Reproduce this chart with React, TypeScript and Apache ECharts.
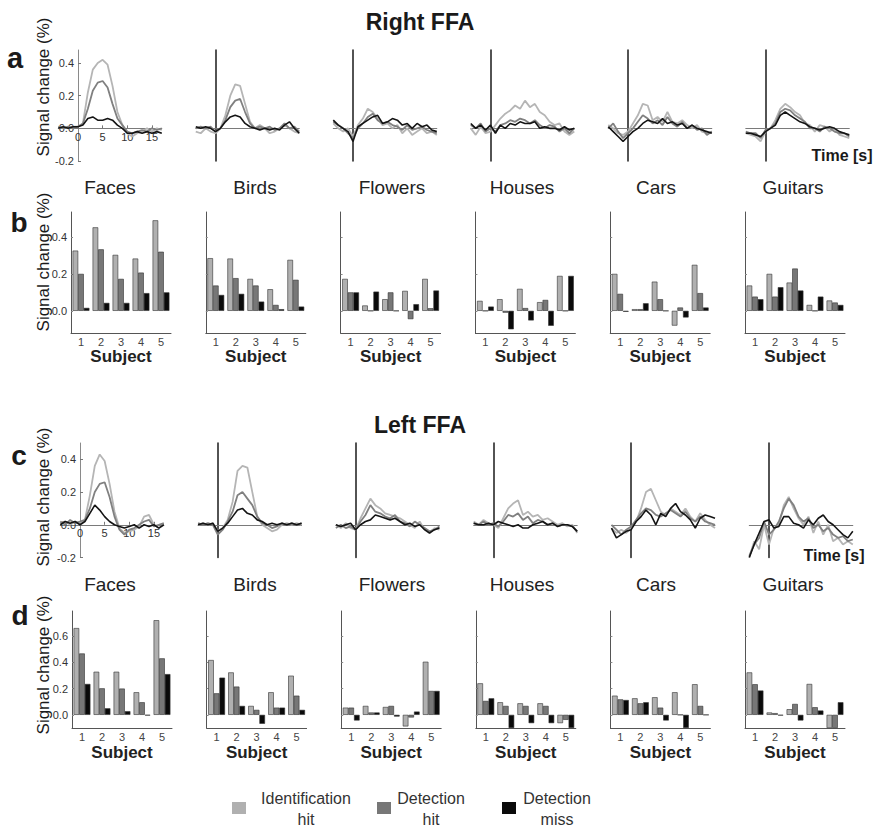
import React, { useEffect, useRef } from 'react';
import * as echarts from 'echarts';

const categories = ['Faces', 'Birds', 'Flowers', 'Houses', 'Cars', 'Guitars'];
const conditions = ['Identification hit', 'Detection hit', 'Detection miss'];
const subjects = ['1', '2', '3', '4', '5'];
const timePoints = [-4, -3, -2, -1, 0, 1, 2, 3, 4, 5, 6, 7, 8, 9, 10, 11, 12, 13, 14, 15, 16, 17];
const timeTicks = [0, 5, 10, 15];
const tcTicks = [-0.2, 0, 0.2, 0.4];
const barTicksRight = [0, 0.2, 0.4];
const barTicksLeft = [0, 0.2, 0.4, 0.6];

// ---- Right FFA time courses: [identification hit, detection hit, detection miss]
const rightTcFaces = [
  [0.0, 0.01, 0.0, 0.01, 0.01, 0.03, 0.22, 0.36, 0.40, 0.42, 0.39, 0.26, 0.10, 0.02, -0.03, -0.05, -0.03, -0.02, 0.0, -0.02, 0.0, -0.01],
  [0.01, 0.0, 0.01, 0.0, 0.01, 0.03, 0.12, 0.23, 0.28, 0.29, 0.25, 0.15, 0.06, 0.02, -0.02, -0.03, -0.02, -0.01, -0.02, 0.0, -0.01, 0.0],
  [0.0, 0.01, 0.0, 0.01, 0.01, 0.02, 0.06, 0.07, 0.05, 0.05, 0.06, 0.05, 0.02, 0.0, -0.03, -0.03, -0.02, -0.03, -0.02, -0.03, -0.02, -0.03],
];
const rightTcBirds = [
  [-0.02, -0.03, 0.0, -0.02, -0.03, 0.0, 0.08, 0.2, 0.27, 0.26, 0.15, 0.04, 0.0, 0.02, 0.0, -0.03, -0.02, 0.0, 0.02, 0.0, -0.02, -0.03],
  [0.0, 0.01, 0.0, 0.01, -0.02, 0.0, 0.05, 0.13, 0.17, 0.18, 0.1, 0.03, 0.0, 0.01, 0.0, 0.01, -0.01, 0.0, 0.03, 0.0, 0.01, -0.02],
  [0.01, 0.0, 0.01, 0.0, -0.02, 0.0, 0.04, 0.07, 0.08, 0.07, 0.03, 0.01, 0.0, -0.01, 0.0, -0.01, 0.0, -0.01, 0.02, 0.04, 0.0, -0.03],
];
const rightTcFlowers = [
  [0.03, 0.0, -0.02, 0.0, -0.05, 0.02, 0.06, 0.12, 0.1, 0.06, 0.02, 0.03, 0.0, 0.02, -0.03, 0.0, -0.04, -0.02, 0.0, -0.03, -0.02, -0.04],
  [0.04, 0.02, 0.0, -0.03, -0.06, 0.0, 0.03, 0.07, 0.09, 0.05, 0.03, 0.04, 0.02, 0.01, -0.01, 0.02, -0.01, 0.0, 0.01, -0.01, -0.02, -0.03],
  [0.05, 0.02, 0.0, -0.02, -0.08, 0.01, 0.03, 0.05, 0.07, 0.08, 0.03, 0.04, 0.06, 0.05, 0.02, 0.03, 0.0, 0.03, 0.01, 0.02, -0.01, -0.02],
];
const rightTcHouses = [
  [0.0, -0.04, 0.01, -0.03, -0.02, 0.02, 0.06, 0.09, 0.11, 0.14, 0.12, 0.17, 0.13, 0.15, 0.1, 0.08, 0.04, 0.02, 0.03, -0.02, -0.04, -0.02],
  [0.02, 0.0, 0.03, -0.02, 0.0, -0.02, 0.02, 0.03, 0.05, 0.04, 0.06, 0.05, 0.03, 0.05, 0.02, 0.0, 0.02, 0.01, -0.02, 0.0, -0.03, 0.0],
  [0.03, 0.0, 0.02, -0.01, 0.02, -0.03, 0.02, 0.0, 0.03, 0.02, 0.04, 0.03, 0.03, 0.04, 0.0, 0.01, 0.0, 0.0, -0.01, 0.01, -0.01, 0.0],
];
const rightTcCars = [
  [0.02, 0.0, -0.03, -0.04, -0.02, 0.03, 0.08, 0.15, 0.14, 0.05, 0.07, 0.04, 0.1, 0.04, 0.03, 0.05, 0.02, 0.0, 0.02, -0.02, -0.03, -0.02],
  [0.0, 0.03, -0.02, -0.06, -0.03, 0.0, 0.04, 0.08, 0.06, 0.03, 0.05, 0.02, 0.07, 0.03, 0.01, 0.04, 0.0, 0.02, -0.01, 0.0, -0.04, -0.02],
  [0.01, -0.02, -0.05, -0.08, -0.05, -0.02, 0.0, 0.03, 0.05, 0.04, 0.03, 0.06, 0.03, 0.04, 0.02, 0.03, 0.0, 0.02, 0.0, -0.01, -0.02, -0.03],
];
const rightTcGuitars = [
  [-0.03, -0.04, -0.05, -0.08, -0.02, 0.0, 0.05, 0.12, 0.15, 0.13, 0.1, 0.08, 0.03, 0.02, -0.02, 0.02, 0.01, -0.02, 0.0, -0.04, -0.05, -0.06],
  [-0.02, -0.03, -0.03, -0.06, -0.01, 0.0, 0.03, 0.1, 0.12, 0.11, 0.08, 0.06, 0.04, 0.0, 0.0, -0.02, 0.01, 0.0, -0.02, -0.03, -0.03, -0.05],
  [-0.03, -0.03, -0.04, -0.05, -0.02, 0.0, 0.02, 0.08, 0.1, 0.08, 0.06, 0.04, 0.03, 0.01, 0.0, -0.01, 0.0, 0.01, 0.0, -0.02, -0.03, -0.04],
];

// ---- Left FFA time courses
const leftTcFaces = [
  [0.01, 0.02, 0.0, 0.02, 0.01, 0.03, 0.18, 0.36, 0.43, 0.39, 0.25, 0.08, -0.02, -0.05, -0.04, -0.03, -0.01, 0.05, 0.06, 0.0, -0.02, 0.0],
  [0.02, 0.0, 0.03, 0.01, 0.02, 0.03, 0.1, 0.2, 0.25, 0.26, 0.17, 0.05, -0.03, -0.06, -0.03, -0.02, 0.0, 0.02, 0.03, -0.01, 0.0, 0.01],
  [0.0, 0.02, 0.01, 0.02, 0.0, 0.02, 0.07, 0.12, 0.09, 0.05, 0.02, 0.0, -0.01, -0.02, -0.01, 0.0, -0.02, 0.0, -0.01, 0.0, -0.02, 0.0],
];
const leftTcBirds = [
  [0.0, 0.01, 0.0, 0.01, -0.04, -0.02, 0.03, 0.14, 0.33, 0.36, 0.35, 0.2, 0.05, 0.0, -0.02, -0.04, -0.03, 0.0, 0.01, 0.0, 0.01, 0.0],
  [0.01, 0.0, 0.01, 0.0, -0.06, -0.03, 0.02, 0.08, 0.18, 0.2, 0.16, 0.12, 0.05, 0.01, 0.0, -0.02, -0.01, 0.01, 0.0, 0.01, 0.0, 0.01],
  [0.0, 0.01, 0.0, 0.01, -0.04, -0.02, 0.01, 0.05, 0.09, 0.1, 0.07, 0.06, 0.03, 0.02, 0.0, 0.01, 0.0, 0.01, 0.0, 0.01, 0.0, 0.01],
];
const leftTcFlowers = [
  [0.0, -0.02, 0.01, -0.02, -0.03, 0.04, 0.1, 0.16, 0.12, 0.1, 0.07, 0.06, 0.05, 0.04, 0.02, 0.0, -0.02, 0.02, -0.03, -0.05, -0.02, -0.03],
  [-0.02, 0.0, -0.02, -0.01, -0.03, 0.02, 0.06, 0.12, 0.08, 0.07, 0.05, 0.04, 0.06, 0.02, 0.01, -0.01, 0.02, 0.0, -0.02, -0.04, -0.03, -0.01],
  [0.0, -0.01, 0.0, 0.01, -0.03, 0.0, 0.02, 0.03, 0.06, 0.05, 0.04, 0.03, 0.04, 0.02, 0.0, 0.01, -0.01, 0.0, -0.03, -0.05, -0.03, -0.02],
];
const leftTcHouses = [
  [0.02, 0.0, 0.03, 0.01, 0.0, -0.02, 0.04, 0.1, 0.13, 0.15, 0.06, 0.08, 0.05, 0.06, 0.03, 0.04, 0.02, 0.0, 0.01, -0.01, 0.0, -0.05],
  [0.01, 0.0, 0.02, 0.0, 0.01, -0.01, 0.02, 0.06, 0.05, 0.07, 0.03, 0.05, 0.01, 0.03, 0.02, 0.0, 0.01, -0.01, 0.0, 0.0, -0.01, -0.04],
  [0.01, 0.0, 0.0, 0.01, 0.0, 0.02, 0.01, 0.0, -0.01, 0.0, -0.02, -0.02, 0.0, 0.01, 0.02, 0.0, 0.01, -0.01, 0.0, 0.0, -0.01, -0.04],
];
const leftTcCars = [
  [-0.02, -0.05, -0.03, -0.05, -0.02, 0.02, 0.1, 0.2, 0.22, 0.15, 0.08, 0.06, 0.1, 0.08, 0.06, 0.1, 0.05, 0.02, 0.07, 0.03, 0.0, -0.02],
  [0.0, -0.03, -0.06, -0.03, -0.01, 0.03, 0.07, 0.1, 0.09, 0.06, 0.05, 0.07, 0.09, 0.07, 0.05, 0.08, 0.04, 0.02, 0.05, 0.02, 0.01, 0.0],
  [-0.02, -0.08, -0.06, -0.04, -0.03, 0.02, 0.05, 0.09, 0.06, 0.0, 0.07, 0.05, 0.1, 0.13, 0.08, 0.06, 0.03, -0.02, 0.04, 0.06, 0.05, 0.04],
];
const leftTcGuitars = [
  [-0.2, -0.1, -0.15, 0.0, -0.12, -0.02, 0.0, 0.12, 0.17, 0.1, 0.04, 0.0, 0.05, -0.05, 0.02, -0.06, 0.0, -0.1, -0.08, -0.12, -0.1, -0.12],
  [-0.19, -0.12, -0.08, 0.02, -0.06, -0.03, 0.02, 0.1, 0.16, 0.12, 0.05, 0.02, 0.04, -0.02, 0.0, -0.04, -0.02, -0.06, -0.08, -0.07, -0.1, -0.09],
  [-0.2, -0.12, -0.05, 0.02, 0.03, -0.02, -0.01, 0.05, 0.05, 0.01, 0.0, -0.02, 0.03, 0.0, 0.04, 0.06, 0.02, 0.0, -0.03, -0.06, -0.08, -0.04],
];

// ---- Per-subject bars: [identification hit, detection hit, detection miss] x subjects 1..5
const rightBarFaces = [[0.326, 0.452, 0.303, 0.283, 0.49], [0.2, 0.333, 0.173, 0.207, 0.32], [0.016, 0.043, 0.043, 0.096, 0.1]];
const rightBarBirds = [[0.285, 0.283, 0.173, 0.117, 0.276], [0.137, 0.177, 0.137, 0.032, 0.168], [0.086, 0.092, 0.05, 0.009, 0.023]];
const rightBarFlowers = [[0.173, 0.029, 0.063, 0.108, 0.173], [0.1, 0.0, 0.1, -0.045, 0.014], [0.1, 0.104, 0.0, 0.036, 0.11]];
const rightBarHouses = [[0.054, 0.063, 0.119, 0.047, 0.189], [0.0, -0.01, 0.015, 0.059, 0.0], [0.023, -0.1, -0.052, -0.081, 0.189]];
const rightBarCars = [[0.2, 0.009, 0.158, -0.08, 0.249], [0.092, 0.009, 0.063, 0.018, 0.096], [-0.005, 0.041, 0.0, -0.036, 0.018]];
const rightBarGuitars = [[0.137, 0.2, 0.153, 0.032, 0.056], [0.077, 0.077, 0.229, 0.0, 0.045], [0.063, 0.128, 0.11, 0.077, 0.032]];

const leftBarFaces = [[0.66, 0.328, 0.328, 0.172, 0.72], [0.467, 0.202, 0.2, 0.096, 0.43], [0.235, 0.05, 0.028, -0.005, 0.31]];
const leftBarBirds = [[0.417, 0.323, 0.068, 0.172, 0.298], [0.164, 0.215, 0.038, 0.055, 0.146], [0.283, 0.068, -0.068, 0.055, 0.038]];
const leftBarFlowers = [[0.055, 0.068, 0.06, -0.088, 0.404], [0.055, 0.018, 0.068, -0.02, 0.182], [-0.043, 0.018, -0.013, 0.025, 0.182]];
const leftBarHouses = [[0.24, 0.096, 0.088, 0.088, -0.063], [0.106, 0.068, 0.068, 0.068, -0.038], [0.126, -0.1, -0.063, -0.063, -0.1]];
const leftBarCars = [[0.146, 0.126, 0.134, 0.172, 0.233], [0.118, 0.088, 0.055, 0.0, 0.068], [0.113, 0.096, -0.043, -0.1, 0.0]];
const leftBarGuitars = [[0.323, 0.018, 0.043, 0.235, -0.1], [0.233, 0.013, 0.083, 0.058, -0.1], [0.185, -0.005, -0.043, 0.033, 0.096]];

const FONT = '"Liberation Sans", Arial, Helvetica, sans-serif';
const LINE_COLORS = ['#b5b5b5', '#808080', '#141414'];
const BAR_COLORS = ['#b0b0b0', '#777777', '#0a0a0a'];

function buildOption() {
  const grid: any[] = [];
  const xAxis: any[] = [];
  const yAxis: any[] = [];
  const series: any[] = [];
  const pxPerSec = 4.93;
  const tMin = -4;
  const tMax = 17;
  const yMin = -0.2;

  const addTime = (data: number[][], col: number, cfg: any) => {
    const i = grid.length;
    const zero = cfg.zeroX + cfg.stepX * col;
    const first = col === 0;
    const left = zero + tMin * pxPerSec;
    const width = (tMax - tMin) * pxPerSec;
    // shift axes so they cross at (0 s, 0 %)
    const yShift = -(zero - left);
    const xShift = -(cfg.height * (0 - yMin) / (cfg.max - yMin));
    grid.push({ left, top: cfg.top, width, height: cfg.height, containLabel: false });
    xAxis.push({
      type: 'value', gridIndex: i, min: tMin, max: tMax, offset: xShift,
      axisLine: { show: true, onZero: false, lineStyle: { color: '#7a7a7a', width: 1 } },
      axisTick: { show: first, inside: true, length: 3, customValues: timeTicks, lineStyle: { color: '#777' } },
      axisLabel: { show: first, customValues: timeTicks, fontSize: 11, margin: 3, color: '#333', fontFamily: FONT },
      splitLine: { show: false },
    });
    yAxis.push({
      type: 'value', gridIndex: i, min: yMin, max: cfg.max, offset: yShift,
      axisLine: { show: true, onZero: false, lineStyle: { color: first ? '#8a8a8a' : '#1a1a1a', width: first ? 1 : 1.5 } },
      axisTick: { show: first, inside: true, length: 3, customValues: tcTicks, lineStyle: { color: '#777' } },
      axisLabel: { show: first, customValues: tcTicks, formatter: (v: number) => v.toFixed(1), fontSize: 11, margin: 4, color: '#333', fontFamily: FONT },
      splitLine: { show: false },
    });
    data.forEach((arr, s) => {
      series.push({
        type: 'line', name: conditions[s], xAxisIndex: i, yAxisIndex: i,
        data: timePoints.map((t, k) => [t, arr[k]]),
        showSymbol: false, silent: true, z: 3 + s,
        lineStyle: { color: LINE_COLORS[s], width: s === 2 ? 1.6 : 1.8 },
      });
    });
  };

  const addBars = (data: number[][], col: number, cfg: any) => {
    const i = grid.length;
    const first = col === 0;
    grid.push({ left: cfg.left0 + cfg.step * col, top: cfg.top, width: 100, height: cfg.height, containLabel: false });
    xAxis.push({
      type: 'category', gridIndex: i, data: subjects,
      axisLine: { show: true, onZero: false, lineStyle: { color: '#555', width: 1 } },
      axisTick: { show: false },
      axisLabel: { interval: 0, fontSize: 11, margin: 3, color: '#444', fontFamily: FONT },
      name: 'Subject', nameLocation: 'middle', nameGap: cfg.nameGap,
      nameTextStyle: { fontSize: 17, fontWeight: 'bold', color: '#222', fontFamily: FONT },
    });
    yAxis.push({
      type: 'value', gridIndex: i, min: cfg.min, max: cfg.max,
      axisLine: { show: true, lineStyle: { color: '#555', width: 1 } },
      axisTick: { show: true, inside: true, length: 2, customValues: cfg.ticks, lineStyle: { color: '#888' } },
      axisLabel: { show: first, customValues: cfg.ticks, formatter: (v: number) => v.toFixed(1), fontSize: 11, margin: 4, color: '#333', fontFamily: FONT },
      splitLine: { show: false },
    });
    data.forEach((arr, s) => {
      series.push({
        type: 'bar', name: conditions[s], xAxisIndex: i, yAxisIndex: i, data: arr,
        barGap: '0%', barCategoryGap: '16%', silent: true,
        itemStyle: { color: BAR_COLORS[s], borderColor: '#333', borderWidth: 0.6 },
      });
    });
  };

  const rowA = { zeroX: 78, stepX: 137.5, top: 50, height: 111, max: 0.48 };
  const rowB = { left0: 71, step: 134.8, top: 212, height: 121, min: -0.12, max: 0.535, nameGap: 12, ticks: barTicksRight };
  const rowC = { zeroX: 80, stepX: 137.8, top: 443, height: 114.5, max: 0.5 };
  const rowD = { left0: 72, step: 134.6, top: 611, height: 117, min: -0.1, max: 0.79, nameGap: 16, ticks: barTicksLeft };

  [rightTcFaces, rightTcBirds, rightTcFlowers, rightTcHouses, rightTcCars, rightTcGuitars].forEach((d, c) => addTime(d, c, rowA));
  [rightBarFaces, rightBarBirds, rightBarFlowers, rightBarHouses, rightBarCars, rightBarGuitars].forEach((d, c) => addBars(d, c, rowB));
  [leftTcFaces, leftTcBirds, leftTcFlowers, leftTcHouses, leftTcCars, leftTcGuitars].forEach((d, c) => addTime(d, c, rowC));
  [leftBarFaces, leftBarBirds, leftBarFlowers, leftBarHouses, leftBarCars, leftBarGuitars].forEach((d, c) => addBars(d, c, rowD));

  const txt = (text: string, x: number, y: number, size: number, opts: any = {}) => ({
    type: 'text', x, y, rotation: opts.rotation || 0, silent: true,
    style: {
      text, fontSize: size, fontFamily: FONT, fontWeight: opts.bold ? 'bold' : 'normal',
      fill: opts.fill || '#1a1a1a', align: opts.align || 'center', verticalAlign: 'middle',
    },
  });

  const catX = [110, 255, 392, 522, 656, 793];
  const graphic: any[] = [
    txt('Right FFA', 420, 22, 23, { bold: true }),
    txt('Left FFA', 420, 425, 23, { bold: true }),
    txt('a', 15, 58, 29, { bold: true }),
    txt('b', 19, 222, 28, { bold: true }),
    txt('c', 19, 455, 28, { bold: true }),
    txt('d', 20, 615, 28, { bold: true }),
    txt('Signal change (%)', 43, 87, 17, { rotation: Math.PI / 2 }),
    txt('Signal change (%)', 43, 262, 17, { rotation: Math.PI / 2 }),
    txt('Signal change (%)', 43, 497, 17, { rotation: Math.PI / 2 }),
    txt('Signal change (%)', 43, 665, 17, { rotation: Math.PI / 2 }),
    txt('Time [s]', 842, 155, 16, { bold: true }),
    txt('Time [s]', 834, 555, 16, { bold: true }),
  ];
  categories.forEach((c, k) => {
    graphic.push(txt(c, catX[k], 187, 19, { fill: '#222' }));
    graphic.push(txt(c, catX[k], 584, 19, { fill: '#222' }));
  });
  const legendBox = [232, 377, 502];
  const legendText = [306, 431, 557];
  const legendLines = [['Identification', 'hit'], ['Detection', 'hit'], ['Detection', 'miss']];
  conditions.forEach((_, k) => {
    graphic.push({ type: 'rect', silent: true, shape: { x: legendBox[k], y: 802, width: 14, height: 12 }, style: { fill: BAR_COLORS[k] } });
    graphic.push(txt(legendLines[k][0], legendText[k], 798, 16, { fill: '#333' }));
    graphic.push(txt(legendLines[k][1], legendText[k], 819, 16, { fill: '#333' }));
  });

  return {
    animation: false,
    backgroundColor: '#ffffff',
    textStyle: { fontFamily: FONT },
    grid, xAxis, yAxis, series, graphic,
  };
}

export default function App() {
  const ref = useRef<HTMLDivElement>(null);
  useEffect(() => {
    document.body.style.margin = '0';
    const chart = echarts.init(ref.current as HTMLDivElement, null, { renderer: 'svg' });
    chart.setOption(buildOption() as any);
    return () => chart.dispose();
  }, []);
  return <div ref={ref} style={{ width: 874, height: 827 }} />;
}
